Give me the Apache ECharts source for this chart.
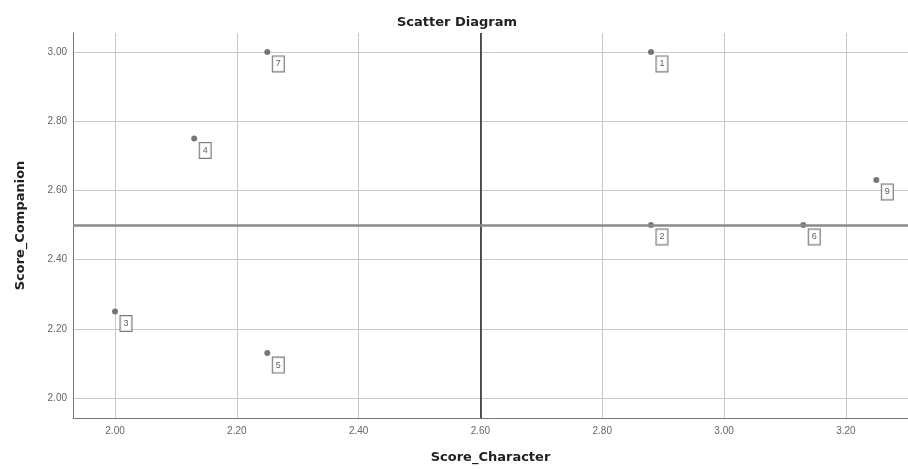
<!DOCTYPE html>
<html>
<head>
<meta charset="utf-8">
<script src="https://cdn.jsdelivr.net/npm/echarts@6/dist/echarts.min.js"></script>
<style>
html,body{margin:0;padding:0;background:#fff;}
#chart{width:908px;height:469px;}
</style>
</head>
<body>
<div id="chart"></div>
<script>
const caseIds = ['1', '2', '3', '4', '5', '6', '7', '9'];
const scoreCharacter = [2.88, 2.88, 2.00, 2.13, 2.25, 3.13, 2.25, 3.25];
const scoreCompanion = [3.00, 2.50, 2.25, 2.75, 2.13, 2.50, 3.00, 2.63];
const xTicks = [2.00, 2.20, 2.40, 2.60, 2.80, 3.00, 3.20];
const yTicks = [2.00, 2.20, 2.40, 2.60, 2.80, 3.00];
const refX = 2.60;
const refY = 2.50;

const points = caseIds.map((id, i) => ({ value: [scoreCharacter[i], scoreCompanion[i]], name: id }));
const FONT = '"Liberation Sans", Arial, sans-serif';
const BOLD = '"DejaVu Sans", Verdana, sans-serif';

const chart = echarts.init(document.getElementById('chart'), null, { renderer: 'canvas' });
chart.setOption({
  backgroundColor: '#ffffff',
  animation: false,
  title: {
    text: 'Scatter Diagram',
    left: 392,
    top: 11,
    textStyle: { fontFamily: BOLD, fontSize: 13, fontWeight: 'bold', color: '#222' }
  },
  grid: { left: 73, right: 0, top: 33, bottom: 49, containLabel: false },
  xAxis: {
    type: 'value',
    min: 1.931,
    max: 3.302,
    name: 'Score_Character',
    nameLocation: 'middle',
    nameGap: 33,
    nameTextStyle: { fontFamily: BOLD, fontSize: 13, fontWeight: 'bold', color: '#222' },
    axisLine: { show: true, lineStyle: { color: '#777', width: 1 } },
    axisTick: { show: false, customValues: xTicks },
    axisLabel: {
      customValues: xTicks,
      formatter: v => v.toFixed(2),
      fontFamily: FONT, fontSize: 10, color: '#666', margin: 8
    },
    splitLine: { show: true, lineStyle: { color: '#c8c8c8', width: 1 } }
  },
  yAxis: {
    type: 'value',
    min: 1.9425,
    max: 3.0546,
    name: 'Score_Companion',
    nameLocation: 'middle',
    nameGap: 46,
    nameRotate: 90,
    nameTextStyle: { fontFamily: BOLD, fontSize: 13, fontWeight: 'bold', color: '#222' },
    axisLine: { show: true, lineStyle: { color: '#777', width: 1 } },
    axisTick: { show: false, customValues: yTicks },
    axisLabel: {
      customValues: yTicks,
      formatter: v => v.toFixed(2),
      fontFamily: FONT, fontSize: 10, color: '#666', margin: 6
    },
    splitLine: { show: true, lineStyle: { color: '#c8c8c8', width: 1 } }
  },
  series: [{
    type: 'scatter',
    data: points,
    symbol: 'circle',
    symbolSize: 6,
    itemStyle: { color: '#555' },
    label: {
      show: true,
      position: 'inside',
      offset: [11, 12],
      formatter: p => p.name,
      fontFamily: FONT,
      fontSize: 9,
      lineHeight: 10,
      color: '#333',
      backgroundColor: '#fff',
      borderColor: '#555',
      borderWidth: 1,
      padding: [3, 3, 2, 3]
    },
    markLine: {
      silent: true,
      symbol: 'none',
      label: { show: false },
      data: [
        { xAxis: refX, lineStyle: { color: '#222', width: 1.5, type: 'solid' } },
        { yAxis: refY, lineStyle: { color: '#8a8a8a', width: 2.5, type: 'solid' } }
      ]
    },
    z: 3
  }]
});
</script>
</body>
</html>
